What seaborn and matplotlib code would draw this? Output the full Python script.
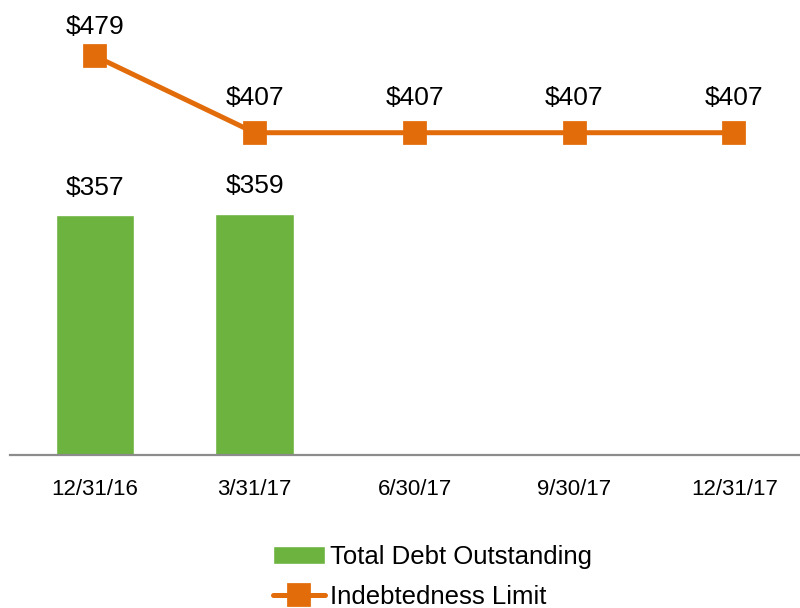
import matplotlib
matplotlib.use('Agg')
import matplotlib.pyplot as plt
import seaborn as sns
import pandas as pd

# values
dates = ['12/31/16', '3/31/17', '6/30/17', '9/30/17', '12/31/17']
debt_dates = ['12/31/16', '3/31/17']
debt_values = [357, 359]
limit_values = [479, 407, 407, 407, 407]

green = '#6CB33F'
orange = '#E36C0A'

sns.set_theme(style='white')
plt.rcParams['font.family'] = ['Liberation Sans', 'DejaVu Sans']
plt.rcParams['text.color'] = 'black'

fig = plt.figure(figsize=(8, 6.08), dpi=100)
ax = fig.add_axes([10 / 800, 153 / 608, 790 / 800, 455 / 608])

debt = pd.DataFrame({'date': debt_dates, 'value': debt_values})
sns.barplot(data=debt, x='date', y='value', order=dates, color=green,
            saturation=1, width=0.49, ax=ax, label='Total Debt Outstanding')

ax2 = ax.twinx()
limit = pd.DataFrame({'date': dates, 'value': limit_values})
sns.pointplot(data=limit, x='date', y='value', order=dates, color=orange,
              markers='s', markersize=15, linewidth=3.6, ax=ax2,
              label='Indebtedness Limit')

ax.set_ylim(0, 677)
ax2.set_ylim(104.4, 531.6)
ax.set_xlim(-0.53, 4.41)

# data labels
for x, v in zip(range(len(debt_values)), debt_values):
    ax.annotate(f'${v}', (x, v), xytext=(0, 11), textcoords='offset points',
                ha='center', va='bottom', fontsize=19, color='black')
for x, v in enumerate(limit_values):
    off = 12 if x == 0 else 16
    ax2.annotate(f'${v}', (x, v), xytext=(0, off), textcoords='offset points',
                 ha='center', va='bottom', fontsize=19, color='black')

for a in (ax, ax2):
    for s in ('top', 'right', 'left', 'bottom'):
        a.spines[s].set_visible(False)
    a.set_yticks([])
    a.set_ylabel('')
    a.set_xlabel('')
ax.spines['bottom'].set_visible(True)
ax.spines['bottom'].set_color('#8C8C8C')
ax.spines['bottom'].set_linewidth(1.6)
ax.tick_params(axis='x', length=0, pad=17, labelsize=16, labelcolor='black')
ax2.tick_params(axis='x', length=0)

h1, l1 = ax.get_legend_handles_labels()
h2, l2 = ax2.get_legend_handles_labels()
if ax2.get_legend():
    ax2.get_legend().remove()
if ax.get_legend():
    ax.get_legend().remove()
leg = fig.legend(h1 + h2, l1 + l2, loc='upper left',
                 bbox_to_anchor=(263 / 800, 1 - 535 / 608),
                 frameon=False, fontsize=18.5, handlelength=2.0, handletextpad=0.2,
                 labelspacing=0.6, borderaxespad=0)
for t in leg.get_texts():
    t.set_color('black')

fig.savefig('out.png', dpi=100)
